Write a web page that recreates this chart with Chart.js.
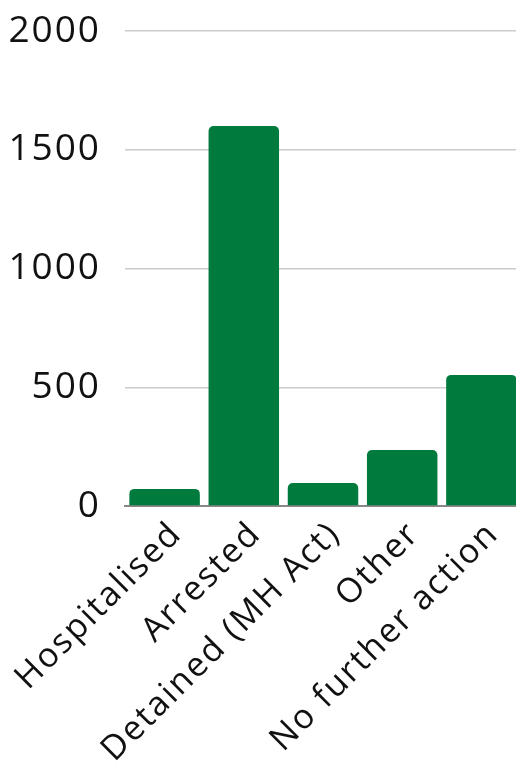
<!DOCTYPE html>
<html>
<head>
<meta charset="utf-8">
<script src="https://cdn.jsdelivr.net/npm/chart.js@4/dist/chart.umd.min.js"></script>
<style>
  html, body { margin: 0; padding: 0; background: #fff; overflow: hidden; }
  #wrap { width: 521px; height: 767px; }
</style>
</head>
<body>
<div id="wrap"><canvas id="outcome-chart"></canvas></div>
<script>
// Data
const categories = ['Hospitalised', 'Arrested', 'Detained (MH Act)', 'Other', 'No further action'];
const counts = [72, 1600, 97, 236, 552];
const yTicks = [0, 500, 1000, 1500, 2000];

const barColor = '#007a3d';
const fontFamily = "'Open Sans', sans-serif";

// Trochu širší písmo jako v předloze
const letterSpacingPlugin = {
    id: 'letterSpacing',
    beforeUpdate(chart) { chart.ctx.letterSpacing = '2px'; },
    beforeDraw(chart) { chart.ctx.letterSpacing = '2px'; }
};

const ctx = document.getElementById('outcome-chart').getContext('2d');
new Chart(ctx, {
    type: 'bar',
    plugins: [letterSpacingPlugin],
    data: {
        labels: categories,
        datasets: [{
            data: counts,
            backgroundColor: barColor,
            borderRadius: { topLeft: 5, topRight: 5 },
            borderSkipped: 'bottom',
            barPercentage: 0.89,
            categoryPercentage: 1
        }]
    },
    options: {
        responsive: true,
        maintainAspectRatio: false,
        animation: false,
        layout: { padding: 0 },
        plugins: {
            legend: { display: false },
            tooltip: { enabled: false }
        },
        scales: {
            x: {
                grid: { display: false },
                border: { color: '#888', width: 2 },
                afterFit: function(axis) {
                    axis.height = 261;
                    axis.paddingLeft = 0;
                    axis.paddingRight = 0;
                },
                ticks: {
                    color: '#111',
                    font: { family: fontFamily, size: 34 },
                    minRotation: 45,
                    maxRotation: 45,
                    labelOffset: 12,
                    padding: 0
                }
            },
            y: {
                min: yTicks[0],
                max: yTicks[yTicks.length - 1],
                afterBuildTicks: function(axis) {
                    axis.ticks = yTicks.map(v => ({ value: v }));
                },
                afterFit: function(axis) {
                    axis.width = 125;
                    axis.paddingTop = 31;
                    axis.paddingBottom = 0;
                },
                grid: { color: '#cccccc', lineWidth: 1.5, drawTicks: false },
                border: { display: false },
                ticks: {
                    color: '#111',
                    font: { family: fontFamily, size: 37 },
                    padding: 24,
                    callback: function(value) { return String(value); }
                }
            }
        }
    }
});
</script>
</body>
</html>
